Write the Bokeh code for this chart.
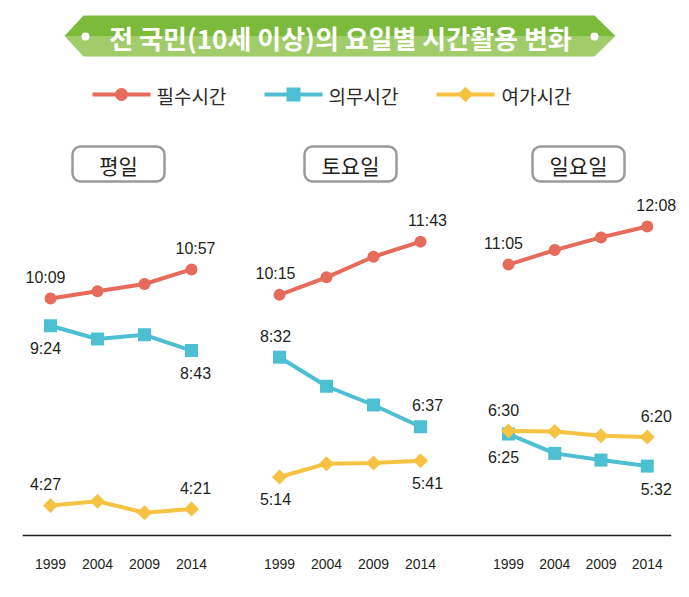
import math
from bokeh.plotting import figure
from bokeh.layouts import column, row
from bokeh.models import Range1d, BoxAnnotation, FixedTicker
from bokeh.core.properties import value
from bokeh.embed import file_html
from bokeh.resources import INLINE

# ---------------- data ----------------
title = "전 국민(10세 이상)의 요일별 시간활용 변화"
years = [1999, 2004, 2009, 2014]
panels = ["평일", "토요일", "일요일"]
series_names = ["필수시간", "의무시간", "여가시간"]

# 필수시간 (necessary time)
necessary_weekday = ["10:09", "10:21", "10:33", "10:57"]
necessary_saturday = ["10:15", "10:44", "11:18", "11:43"]
necessary_sunday = ["11:05", "11:29", "11:50", "12:08"]
# 의무시간 (obligatory time)
obligatory_weekday = ["9:24", "9:02", "9:09", "8:43"]
obligatory_saturday = ["8:32", "7:44", "7:13", "6:37"]
obligatory_sunday = ["6:25", "5:53", "5:42", "5:32"]
# 여가시간 (leisure time)
leisure_weekday = ["4:27", "4:34", "4:15", "4:21"]
leisure_saturday = ["5:14", "5:36", "5:37", "5:41"]
leisure_sunday = ["6:30", "6:29", "6:22", "6:20"]

series_by_panel = [
    [necessary_weekday, obligatory_weekday, leisure_weekday],
    [necessary_saturday, obligatory_saturday, leisure_saturday],
    [necessary_sunday, obligatory_sunday, leisure_sunday],
]

# ---------------- styles ----------------
colors = ["#e66b5b", "#4dbfd3", "#f5c242"]
markers = ["circle", "square", "square"]
marker_sizes = [12, 13, 10.6]
marker_angles = [0, 0, math.pi / 4]
legend_sizes = [13, 14, 11]
label_side = [["up", "down", "up"], ["up", "up", "down"], ["up", "down", "up"]]
label_x_offsets = [[-5, 4], [-4, 7], [-5, 9]]
TXT = "#231f20"
NUM_FONT = value("Liberation Sans")
KR_FONT = value("Noto Sans CJK KR")


def to_min(s):
    h, m = s.split(":")
    return int(h) * 60 + int(m)


W, H = 689, 597
HEADER_H = 190
MAIN_H = H - HEADER_H
Y_RANGE = (217.3, 787.5)

# (width, min_border_left, x_start, x_end, axis_bound_end)
panel_specs = [
    (235, 23, 1996.128, 2018.681, None),
    (228, 0, 1994.319, 2018.574, None),
    (226, 0, 1994.135, 2018.568, 2016.513),
]

# ---------------- header ----------------
h = figure(width=W, height=HEADER_H, x_range=Range1d(0, W), y_range=Range1d(HEADER_H, 0),
           output_backend="svg", toolbar_location=None, x_axis_location=None,
           y_axis_location=None, min_border=0)
h.grid.visible = False
h.outline_line_color = None
h.background_fill_color = "white"
h.border_fill_color = "white"

h.patch([64, 83, 594, 615], [35.5, 15, 15, 35.5], fill_color="#7cba3c", line_color=None)
h.patch([64, 615, 594, 83], [35.5, 35.5, 56, 56], fill_color="#a0cd69", line_color=None)
h.scatter([85, 594], [36, 36], size=8, fill_color="white", line_color=None)
h.text(x=[340], y=[37], text=[title], text_font=KR_FONT, text_font_style="bold",
       text_font_size="26px", text_color="white", text_align="center", text_baseline="middle")

legend_lines = [(92, 150, 121), (264, 322, 293), (436, 494, 465)]
legend_text_x = [156, 328, 501]
for i, name in enumerate(series_names):
    x0, x1, mx = legend_lines[i]
    h.segment(x0=[x0], y0=[94], x1=[x1], y1=[94], line_color=colors[i], line_width=4)
    h.scatter([mx], [94], marker=markers[i], size=legend_sizes[i], angle=marker_angles[i],
              fill_color=colors[i], line_color=None)
    h.text(x=[legend_text_x[i]], y=[95], text=[name], text_font=KR_FONT, text_font_size="19px",
           text_color="#2b2b2b", text_align="left", text_baseline="middle")

box_centers = [118, 350, 578]
for i, name in enumerate(panels):
    cx = box_centers[i]
    h.add_layout(BoxAnnotation(left=cx - 46, right=cx + 46, top=146, bottom=181,
                               border_radius=8, fill_color="white", fill_alpha=1,
                               line_color="#9a9a9a", line_alpha=1, line_width=2.5,
                               level="underlay"))
    h.text(x=[cx], y=[164], text=[name], text_font=KR_FONT, text_font_size="21px",
           text_color=TXT, text_align="center", text_baseline="middle")

# ---------------- panels ----------------
figs = []
for pi, (w, bl, xs, xe, bound_end) in enumerate(panel_specs):
    f = figure(width=w, height=MAIN_H, x_range=Range1d(xs, xe), y_range=Range1d(*Y_RANGE),
               output_backend="svg", toolbar_location=None, y_axis_location=None,
               min_border_left=bl, min_border_right=0, min_border_top=0, min_border_bottom=62)
    f.grid.visible = False
    f.outline_line_color = None
    f.background_fill_color = "white"
    f.border_fill_color = "white"
    ax = f.xaxis[0]
    ax.ticker = FixedTicker(ticks=years)
    if bound_end is not None:
        ax.bounds = (xs, bound_end)
    ax.major_tick_line_color = None
    ax.minor_tick_line_color = None
    ax.major_tick_out = 0
    ax.major_tick_in = 0
    ax.axis_line_color = TXT
    ax.axis_line_width = 1.5
    ax.axis_line_cap = "square"
    ax.major_label_standoff = 23
    ax.major_label_text_font = "Liberation Sans"
    ax.major_label_text_font_size = "14px"
    ax.major_label_text_color = TXT

    for si, data in enumerate(series_by_panel[pi]):
        vals = [to_min(v) for v in data]
        f.line(years, vals, line_color=colors[si], line_width=4)
        f.scatter(years, vals, marker=markers[si], size=marker_sizes[si], angle=marker_angles[si],
                  fill_color=colors[si], line_color=None)
        yoff = -21 if label_side[pi][si] == "up" else 23
        f.text(x=[years[0], years[-1]], y=[vals[0], vals[-1]], text=[data[0], data[-1]],
               x_offset=label_x_offsets[pi], y_offset=[yoff, yoff], text_font=NUM_FONT,
               text_font_size="16px", text_color=TXT, text_align="center",
               text_baseline="middle")
    figs.append(f)

layout = column(h, row(*figs, spacing=0), spacing=0)
open("out.html", "w").write(file_html(layout, INLINE))
